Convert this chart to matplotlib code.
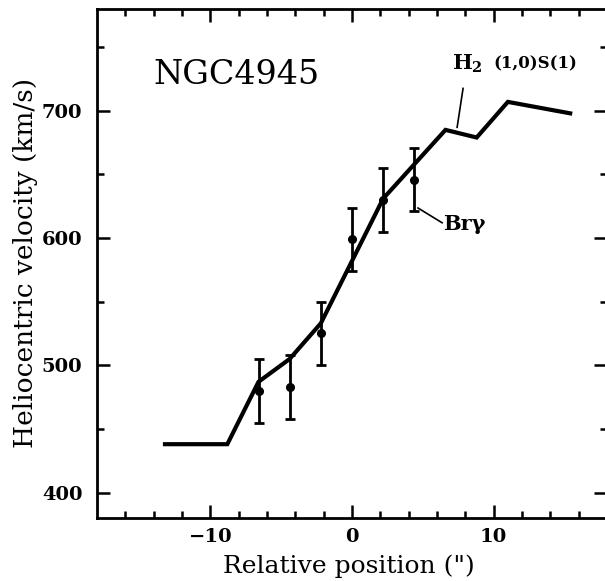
import matplotlib.pyplot as plt
import numpy as np

# H2 (1,0)S(1) velocity curve
line_pos = [-13.2, -8.8, -6.6, -4.4, -2.2, 0.0, 2.2, 4.4, 6.6, 8.8, 11.0, 15.4]
line_vel = [438, 438, 487, 505, 533, 582, 631, 658, 685, 679, 707, 698]

# Br gamma points with error bars
brg_pos = [-6.6, -4.4, -2.2, 0.0, 2.2, 4.4]
brg_vel = [480, 483, 525, 599, 630, 646]
brg_err = [25, 25, 25, 25, 25, 25]

xticks = [-10, 0, 10]
yticks = [400, 500, 600, 700]

plt.rcParams['font.family'] = ['DejaVu Serif']
plt.rcParams['mathtext.fontset'] = 'dejavuserif'

fig = plt.figure(figsize=(6.05, 5.81), dpi=100)
ax = fig.add_axes([97 / 605, 63 / 581, 510 / 605, 509 / 581])

ax.plot(line_pos, line_vel, color='black', lw=3, solid_joinstyle='miter')
ax.errorbar(brg_pos, brg_vel, yerr=brg_err, fmt='o', color='black',
            ms=5.5, elinewidth=2, capsize=3.5, capthick=2)

ax.set_xlim(-18, 18)
ax.set_ylim(380, 780)
ax.set_xticks(xticks)
ax.set_yticks(yticks)
ax.set_xticks(np.arange(-16, 17, 2), minor=True)
ax.set_yticks(np.arange(400, 780, 50), minor=True)
ax.tick_params(which='both', direction='in', top=True, right=True, width=1.8)
ax.tick_params(which='major', length=9.5)
ax.tick_params(which='minor', length=5)
ax.tick_params(axis='x', which='major', pad=7, labelsize=14)
ax.tick_params(axis='y', which='major', pad=10.5, labelsize=14)
for lab in ax.get_xticklabels() + ax.get_yticklabels():
    lab.set_fontweight('bold')
for sp in ax.spines.values():
    sp.set_linewidth(2)

# annotations
ax.text(-14.0, 728.5, 'NGC4945', fontsize=24, va='center', ha='left')
ax.text(7.05, 732, r'$\mathbf{H_2}$', fontsize=15, ha='left', va='baseline')
ax.text(9.96, 733, '(1,0)S(1)', fontsize=12, fontweight='bold', ha='left', va='baseline')
ax.plot([7.84, 7.42], [717.6, 687], color='black', lw=1.2)
ax.text(6.45, 611, 'Brγ', fontsize=15, fontweight='bold', ha='left', va='center')
ax.plot([4.66, 6.36], [623.6, 612], color='black', lw=1.2)

fig.text(26 / 605, 1 - 263 / 581, 'Heliocentric velocity (km/s)', rotation=90,
         ha='center', va='center', fontsize=19)
fig.text(349 / 605, 1 - 566 / 581, 'Relative position (")', ha='center', va='center',
         fontsize=18)

fig.savefig('out.png', dpi=100)
